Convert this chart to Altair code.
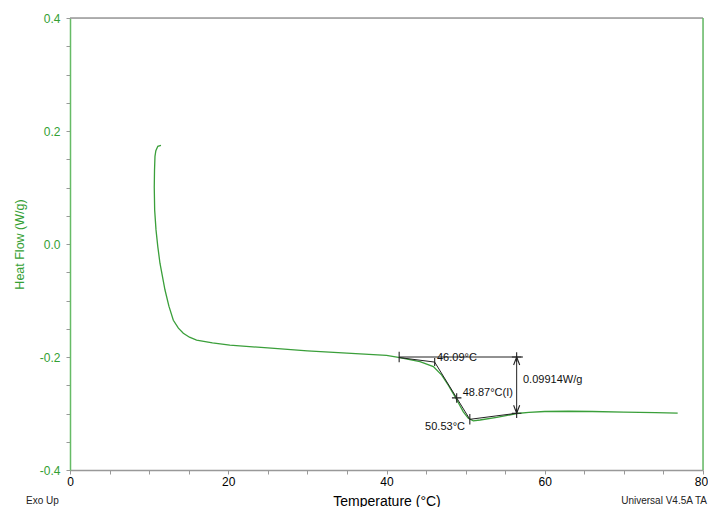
import altair as alt
import pandas as pd

# ---- DSC curve (Temperature °C, Heat Flow W/g), in acquisition order ----
curve_T = [11.5, 11.1, 10.85, 10.74, 10.68, 10.65, 10.7, 10.87, 11.1, 11.37, 12.0, 12.5,
           13.06, 13.7, 14.32, 15.1, 16.0, 18.0, 20.2, 25.0, 30.0, 35.0, 40.0, 41.5,
           44.23, 45.92, 46.98, 47.81, 48.53, 49.08, 49.71, 50.34, 50.97, 51.82, 53.93,
           56.46, 58.0, 60.0, 63.0, 66.0, 70.0, 74.0, 76.8]
curve_HF = [0.1745, 0.173, 0.165, 0.155, 0.13, 0.10, 0.06, 0.025, -0.005, -0.034, -0.081, -0.11,
            -0.135, -0.149, -0.158, -0.165, -0.170, -0.175, -0.179, -0.184, -0.189, -0.193, -0.197, -0.2005,
            -0.208, -0.217, -0.232, -0.250, -0.267, -0.281, -0.297, -0.3085, -0.313, -0.3115, -0.307,
            -0.300, -0.298, -0.2965, -0.296, -0.2965, -0.2975, -0.2985, -0.2995]

# ---- glass-transition analysis construction lines ----
seg_T0 = [41.6, 41.6, 46.09, 50.53, 56.45]
seg_v0 = [-0.2, -0.201, -0.209, -0.3103, -0.2]
seg_T1 = [57.25, 46.09, 50.53, 56.45, 56.45]
seg_v1 = [-0.2, -0.209, -0.3103, -0.2996, -0.2996]

# ---- markers ----
mark_T = [41.6, 46.09, 48.87, 50.53, 56.45, 56.45, 56.45, 56.45]
mark_v = [-0.2, -0.209, -0.2724, -0.3103, -0.2, -0.2996, -0.2, -0.2996]
mark_kind = ["vtick", "vtick_s", "cross", "vtick", "cross", "cross", "arrow_up", "arrow_down"]

# ---- result labels ----
lab_text = ["46.09°C", "48.87°C(I)", "0.09914W/g"]
lab_T = [46.38, 49.63, 57.25]
lab_v = [-0.2015, -0.263, -0.2407]
lab2_text = ["50.53°C"]
lab2_T = [49.92]
lab2_v = [-0.324]

GREEN_LINE = "#3a9f3a"
GREEN_AXIS = "#66bb66"
GREEN_TEXT = "#33a033"
GRAY = "#999999"
FONT = "Liberation Sans"

curve = pd.DataFrame({"T": curve_T, "HF": curve_HF, "i": range(len(curve_T))})
segs = pd.DataFrame({"T": seg_T0, "HF": seg_v0, "T2": seg_T1, "HF2": seg_v1})
marks = pd.DataFrame({"T": mark_T, "HF": mark_v, "kind": mark_kind})
labs = pd.DataFrame({"T": lab_T, "HF": lab_v, "text": lab_text})
labs2 = pd.DataFrame({"T": lab2_T, "HF": lab2_v, "text": lab2_text})

xscale = alt.Scale(domain=[0, 80], nice=False, zero=False)
yscale = alt.Scale(domain=[-0.4, 0.4], nice=False, zero=False)

x_ticks = list(range(0, 81, 5))
y_ticks = [round(-0.4 + 0.05 * k, 2) for k in range(17)]

xaxis = alt.Axis(
    values=x_ticks,
    labelExpr="datum.value % 20 == 0 ? datum.label : ''",
    title="Temperature (°C)", grid=False,
    domainColor=GRAY, tickColor=GRAY, tickSize=4, domainWidth=1.5,
    labelColor="black", labelFontSize=12, labelFont=FONT, labelPadding=2,
    labelOffset={"condition": {"test": "datum.value == 80", "value": -2}, "value": 0},
    titleFont=FONT, titleFontSize=14, titleFontWeight="normal", titleColor="black",
    titlePadding=7, labelFlush=False,
)
yaxis = alt.Axis(
    values=y_ticks,
    labelExpr="abs(datum.value*5 - round(datum.value*5)) < 0.000001 ? ((datum.value < -0.0001 ? '-' : '') + format(abs(datum.value), '.1f')) : ''",
    title="Heat Flow (W/g)", grid=False,
    domainColor=GREEN_AXIS, tickColor=GRAY, tickSize=4, domainWidth=1.5,
    labelColor=GREEN_TEXT, labelFontSize=12, labelFont=FONT, labelPadding=6,
    titleFont=FONT, titleFontSize=12.5, titleFontWeight="normal", titleColor=GREEN_TEXT,
    titlePadding=13, labelFlush=False,
)


def X(field="T"):
    return alt.X(f"{field}:Q", scale=xscale, axis=xaxis)


def Y(field="HF"):
    return alt.Y(f"{field}:Q", scale=yscale, axis=yaxis)


line = alt.Chart(curve).mark_line(color=GREEN_LINE, strokeWidth=1.3).encode(
    x=X(), y=Y(), order=alt.Order("i:Q"))

frame_top = alt.Chart(pd.DataFrame({"HF": [0.4]})).mark_rule(color=GRAY, strokeWidth=1.5).encode(y=Y())
frame_right = alt.Chart(pd.DataFrame({"T": [80]})).mark_rule(color=GREEN_AXIS, strokeWidth=1.5).encode(x=X())

rules = alt.Chart(segs).mark_rule(color="#222222", strokeWidth=1).encode(
    x=X(), y=Y(), x2="T2:Q", y2="HF2:Q")

shape_map = {
    "vtick": ("M0,-1L0,1", 110),
    "vtick_s": ("M0,-1L0,1", 64),
    "cross": ("M-1,0L1,0M0,-1L0,1", 90),
    "arrow_up": ("M-0.38,1L0,0L0.38,1", 256),
    "arrow_down": ("M-0.38,-1L0,0L0.38,-1", 256),
}
marker_layers = []
for kind, (path, size) in shape_map.items():
    sub = marks[marks["kind"] == kind]
    marker_layers.append(
        alt.Chart(sub).mark_point(shape=path, size=size, filled=False, stroke="#222222",
                                  strokeWidth=1.1, opacity=1).encode(x=X(), y=Y()))

texts = alt.Chart(labs).mark_text(align="left", baseline="middle", font=FONT, fontSize=11,
                                  color="#111111").encode(x=X(), y=Y(), text="text:N")
texts2 = alt.Chart(labs2).mark_text(align="right", baseline="middle", font=FONT, fontSize=11,
                                    color="#111111").encode(x=X(), y=Y(), text="text:N")

foot = pd.DataFrame({"text": ["Exo Up", "Universal V4.5A TA"]})
foot_left = alt.Chart(foot.iloc[[0]]).mark_text(align="left", baseline="middle", font=FONT,
                                                fontSize=10, color="#222222").encode(
    x=alt.value(-44), y=alt.value(483), text="text:N")
foot_right = alt.Chart(foot.iloc[[1]]).mark_text(align="right", baseline="middle", font=FONT,
                                                 fontSize=10, color="#222222").encode(
    x=alt.value(637), y=alt.value(483), text="text:N")

chart = alt.layer(
    line, frame_top, frame_right, rules, *marker_layers, texts, texts2, foot_left, foot_right
).properties(
    width=633, height=452,
    autosize=alt.AutoSizeParams(type="none"),
    padding={"left": 62, "top": 10, "right": 5, "bottom": 37},
).configure_view(stroke=None).configure(background="white")

chart.save("out.html", embed_options={"renderer": "svg", "actions": False})
